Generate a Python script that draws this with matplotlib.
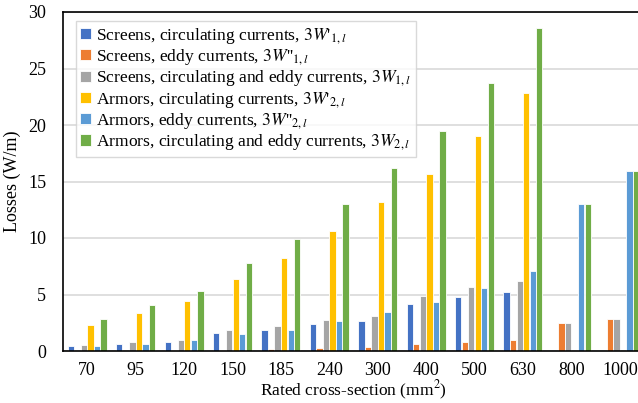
import matplotlib
matplotlib.use("Agg")
import matplotlib.pyplot as plt
import numpy as np

plt.rcParams['font.family'] = ['Liberation Serif', 'DejaVu Serif']
plt.rcParams['mathtext.fontset'] = 'stix'

sections = ['70', '95', '120', '150', '185', '240', '300', '400', '500', '630', '800', '1000']

screens_circ = [0.45, 0.66, 0.84, 1.6, 1.9, 2.35, 2.67, 4.2, 4.8, 5.2, 0, 0]
screens_eddy = [0.0, 0.03, 0.06, 0.12, 0.18, 0.27, 0.36, 0.62, 0.8, 0.95, 2.5, 2.85]
screens_total = [0.54, 0.78, 0.96, 1.83, 2.22, 2.75, 3.09, 4.9, 5.7, 6.23, 2.5, 2.85]
armors_circ = [2.3, 3.4, 4.4, 6.4, 8.2, 10.6, 13.2, 15.7, 19.0, 22.8, 0, 0]
armors_eddy = [0.42, 0.66, 0.93, 1.47, 1.9, 2.66, 3.44, 4.36, 5.58, 7.06, 13.0, 15.9]
armors_total = [2.8, 4.1, 5.3, 7.8, 9.95, 13.0, 16.2, 19.5, 23.7, 28.6, 13.0, 15.9]

series = [
    (screens_circ, r"Screens, circulating currents, $3W$'$_{1,l}$", '#4472C4'),
    (screens_eddy, r"Screens, eddy currents, $3W$''$_{1,l}$", '#ED7D31'),
    (screens_total, r"Screens, circulating and eddy currents, $3W_{1,l}$", '#A5A5A5'),
    (armors_circ, r"Armors, circulating currents, $3W$'$_{2,l}$", '#FFC000'),
    (armors_eddy, r"Armors, eddy currents, $3W$''$_{2,l}$", '#5B9BD5'),
    (armors_total, r"Armors, circulating and eddy currents, $3W_{2,l}$", '#70AD47'),
]

fig = plt.figure(figsize=(6.38, 4.03), dpi=100)
ax = fig.add_axes([63 / 638, 1 - 351 / 403, 581 / 638, 339 / 403])

x = np.arange(len(sections))
step = 0.135
width = 0.13
for i, (vals, label, color) in enumerate(series):
    v = np.array(vals, dtype=float)
    v[v == 0] = np.nan  # empty slots are not drawn
    ax.bar(x + (i - 2.5) * step, v, width, color=color, label=label,
           edgecolor='white', linewidth=0.6, zorder=3)

ax.set_xlim(-0.5, len(sections) - 0.5)
ax.set_ylim(0, 30)
ax.set_yticks(range(0, 31, 5))
ax.set_xticks(x)
ax.set_xticklabels(sections)
ax.tick_params(axis='both', length=0, labelsize=13)
ax.tick_params(axis='x', pad=8)
ax.tick_params(axis='y', pad=12)
ax.grid(axis='y', color='#D9D9D9', linewidth=1.2, zorder=0)
for s in ['top', 'left', 'bottom']:
    ax.spines[s].set_color('black')
    ax.spines[s].set_linewidth(1.2)
    ax.spines[s].set_zorder(5)
ax.spines['right'].set_visible(False)

ax.set_ylabel('Losses (W/m)', fontsize=13, labelpad=5)
ax.set_xlabel('Rated cross-section (mm$^2$)', fontsize=12.5, labelpad=0)

leg = ax.legend(loc='upper left', bbox_to_anchor=(0.022, 0.972), fontsize=12.6,
                frameon=True, fancybox=False, edgecolor='#D0D0D0',
                handlelength=0.6, handleheight=0.6, handletextpad=0.3,
                labelspacing=0.08, borderpad=0.25, borderaxespad=0)
leg.get_frame().set_linewidth(1.0)
leg.set_zorder(6)

fig.savefig('out.png', dpi=100)
